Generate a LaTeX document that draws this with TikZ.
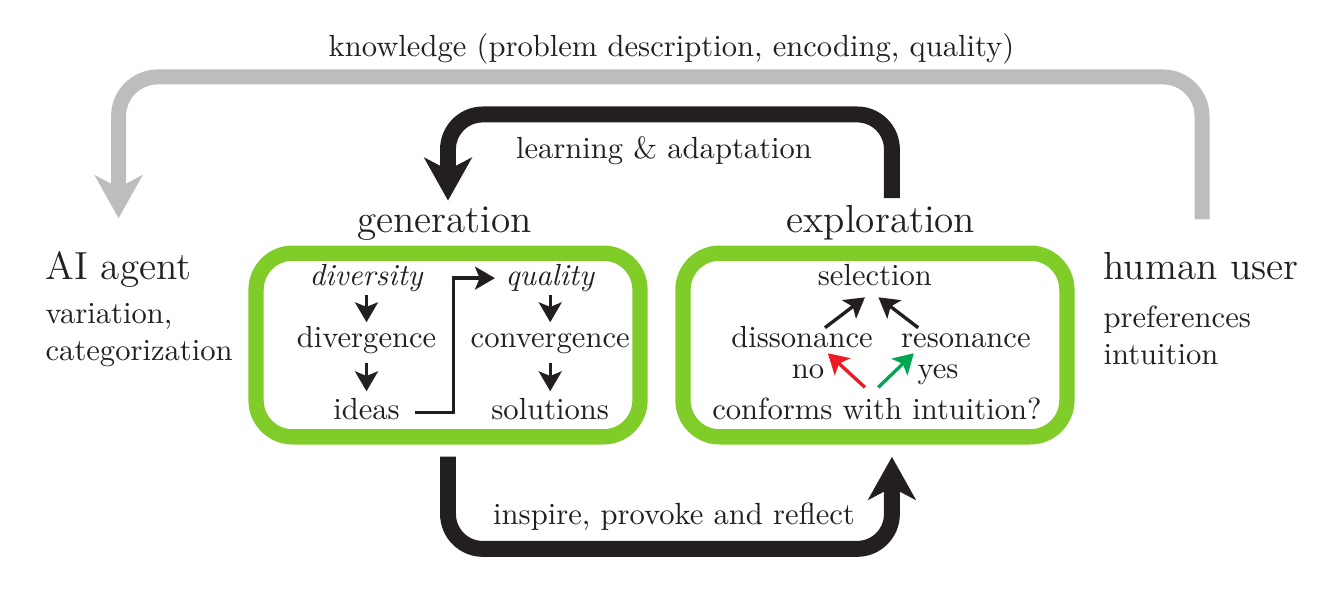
\documentclass[tikz,border=0pt]{standalone}
\usepackage{xcolor}
\usepackage{tikz}
\usetikzlibrary{arrows.meta}
\definecolor{phasecolor}{HTML}{80CC28}
\definecolor{loopcolor}{HTML}{BDBDBD}
\definecolor{inkcolor}{HTML}{231F20}
\definecolor{nocolor}{HTML}{ED1C24}
\definecolor{yescolor}{HTML}{00A651}

\begin{document}
\begin{tikzpicture}[
  phasebox/.style={draw=phasecolor, line width=5pt, rounded corners=0.42cm, minimum width=4.41cm, minimum height=2.11cm},
  phasename/.style={anchor=base, inner sep=0pt, font=\fontsize{12.8pt}{15.4pt}\selectfont, text=inkcolor},
  actor/.style={anchor=base west, inner sep=0pt, font=\fontsize{12.8pt}{15.4pt}\selectfont, text=inkcolor},
  actornote/.style={anchor=north west, align=left, inner sep=0pt, text=inkcolor},
  looplabel/.style={anchor=base, text=inkcolor},
  stage/.style={anchor=base, inner sep=1pt, text height=1.6ex, text depth=0.45ex, text=inkcolor},
  flow/.style={draw=inkcolor, line width=1.1pt, -{Stealth[length=6.5pt, width=7.5pt, inset=1.5pt]}},
  bigloop/.style={draw=inkcolor, line width=5.2pt, rounded corners=0.4cm, -{Stealth[length=14pt, width=15.5pt, inset=4pt]}},
  knowloop/.style={draw=loopcolor, line width=4.9pt, rounded corners=0.45cm, -{Stealth[length=14pt, width=15.5pt, inset=4pt]}},
]%
\useasboundingbox (0,0) rectangle (15.30,-6.777);%
% the two phases
\node[phasebox] (genbox) at (5.146,-3.963) {};%
\node[phasebox] (explbox) at (10.050,-3.963) {};%
\node[phasename] (generation) at (5.106,-2.665) {generation};%
\node[phasename] (exploration) at (10.119,-2.665) {exploration};%
% the actors
\node[actor] (agent) at (0.517,-3.205) {AI agent};%
\node[actornote] (agentnote) at (0.517,-3.479) {variation,\\categorization};%
\node[actor] (human) at (12.669,-3.205) {human user};%
\node[actornote] (humannote) at (12.669,-3.509) {preferences\\intuition};%
% generation
\node[stage] (diversity) at (4.21,-3.282) {\textit{diversity}};%
\node[stage] (divergence) at (4.21,-3.986) {divergence};%
\node[stage] (ideas) at (4.21,-4.824) {ideas};%
\node[stage] (quality) at (6.32,-3.282) {\textit{quality}};%
\node[stage] (convergence) at (6.32,-3.986) {convergence};%
\node[stage] (solutions) at (6.32,-4.824) {solutions};%
\draw[flow] (diversity.south) -- (divergence.north);%
\draw[flow, shorten <=0.07cm, shorten >=0.045cm] (divergence.south) -- (ideas.north);%
\draw[flow] (quality.south) -- (convergence.north);%
\draw[flow, shorten <=0.07cm, shorten >=0.045cm] (convergence.south) -- (solutions.north);%
\draw[flow, shorten <=0.138cm, shorten >=0.08cm] (ideas.east) -- ++(0.574,0) |- (quality.west);%
% exploration
\node[stage] (selection) at (10.050,-3.282) {selection};%
\node[stage] (dissonance) at (9.212,-3.986) {dissonance};%
\node[stage] (resonance) at (11.095,-3.986) {resonance};%
\node[stage] (no) at (9.281,-4.342) {no};%
\node[stage] (yes) at (10.774,-4.342) {yes};%
\node[stage] (conforms) at (10.073,-4.824) {conforms with intuition?};%
\draw[flow] ([xshift=0.264cm,yshift=-0.063cm]dissonance.north) -- ([xshift=-0.115cm,yshift=-0.023cm]selection.south);%
\draw[flow] ([xshift=-0.548cm,yshift=-0.063cm]resonance.north) -- ([xshift=0.04cm,yshift=-0.023cm]selection.south);%
\draw[flow, draw=nocolor] ([xshift=-0.138cm,yshift=0.09cm]conforms.north) -- (no.north east);%
\draw[flow, draw=yescolor] ([xshift=0.015cm,yshift=0.09cm]conforms.north) -- (yes.north west);%
% loops
\draw[knowloop, shorten <=0.365cm, shorten >=0.37cm] ([xshift=0.01cm]human.north) -- ++(0,2.002) -| (agent.north);%
\draw[bigloop, shorten <=0.07cm, shorten >=0.06cm] ([xshift=0.126cm]exploration.north) -- ++(0,1.031) -| ([xshift=0.04cm]generation.north);%
\draw[bigloop, shorten <=0.14cm, shorten >=0.142cm] (genbox.south) -- ++(0,-1.199) -| ([xshift=0.195cm]explbox.south);%
\node[looplabel] (knowledge) at (7.713,-0.651) {knowledge (problem description, encoding, quality)};%
\node[looplabel] (learning) at (7.627,-1.815) {learning \& adaptation};%
\node[looplabel] (inspire) at (7.742,-6.023) {inspire, provoke and reflect};%
\end{tikzpicture}
\end{document}
